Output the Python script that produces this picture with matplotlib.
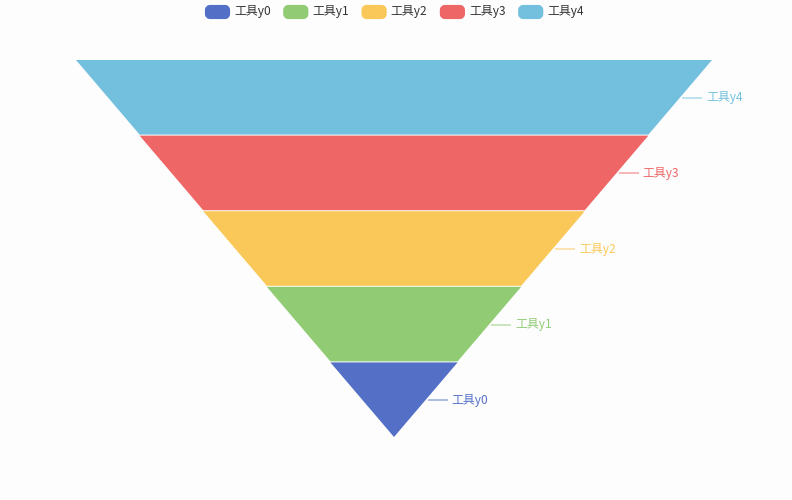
import matplotlib.pyplot as plt
from matplotlib.patches import Polygon, FancyBboxPatch

plt.rcParams['font.family'] = ['Noto Sans CJK SC', 'DejaVu Sans']

# data
names = ['工具y0', '工具y1', '工具y2', '工具y3', '工具y4']
values = [20, 40, 60, 80, 100]
colors = ['#5470c6', '#91cc75', '#fac858', '#ee6666', '#73c0de']

# layout (pixel coords)
W, H = 792, 500
top, bottom = 60, 438
cx = 394
full_w = 636
gap = 1.0

fig = plt.figure(figsize=(7.92, 5.0), dpi=100)
fig.patch.set_facecolor('#fdfdfd')
ax = fig.add_axes([0, 0, 1, 1])
ax.set_xlim(0, W)
ax.set_ylim(H, 0)
ax.axis('off')

# funnel: sorted descending, widest on top
order = sorted(range(len(values)), key=lambda i: values[i], reverse=True)
vmax = max(values)
seg_h = (bottom - top) / len(order)
for k, i in enumerate(order):
    w_top = values[i] / vmax * full_w
    w_bot = values[order[k + 1]] / vmax * full_w if k + 1 < len(order) else 0
    y0 = top + k * seg_h
    y1 = y0 + seg_h - gap
    poly = Polygon([(cx - w_top / 2, y0), (cx + w_top / 2, y0),
                    (cx + w_bot / 2, y1), (cx - w_bot / 2, y1)],
                   closed=True, facecolor=colors[i], edgecolor='none')
    ax.add_patch(poly)
    # label outside right with a short guide line
    ym = y0 + seg_h / 2
    xr = cx + (w_top + w_bot) / 4
    ax.plot([xr + 2, xr + 22], [ym, ym], color=colors[i], alpha=0.55, lw=1.2,
            solid_capstyle='butt')
    ax.text(xr + 26, ym, names[i], color=colors[i], fontsize=8.6,
            va='center', ha='left')

# legend
lx0, lstep = 205, 78.3
for j, n in enumerate(names):
    x = lx0 + j * lstep
    ax.add_patch(FancyBboxPatch((x + 2, 7), 21, 10,
                                boxstyle='round,pad=0,rounding_size=3',
                                mutation_aspect=1, facecolor=colors[j],
                                edgecolor=colors[j], lw=3, joinstyle='round'))
    ax.text(x + 29, 12, n, color='#333333', fontsize=8.6, va='center', ha='left')

fig.savefig('out.png', dpi=100, facecolor=fig.get_facecolor())
